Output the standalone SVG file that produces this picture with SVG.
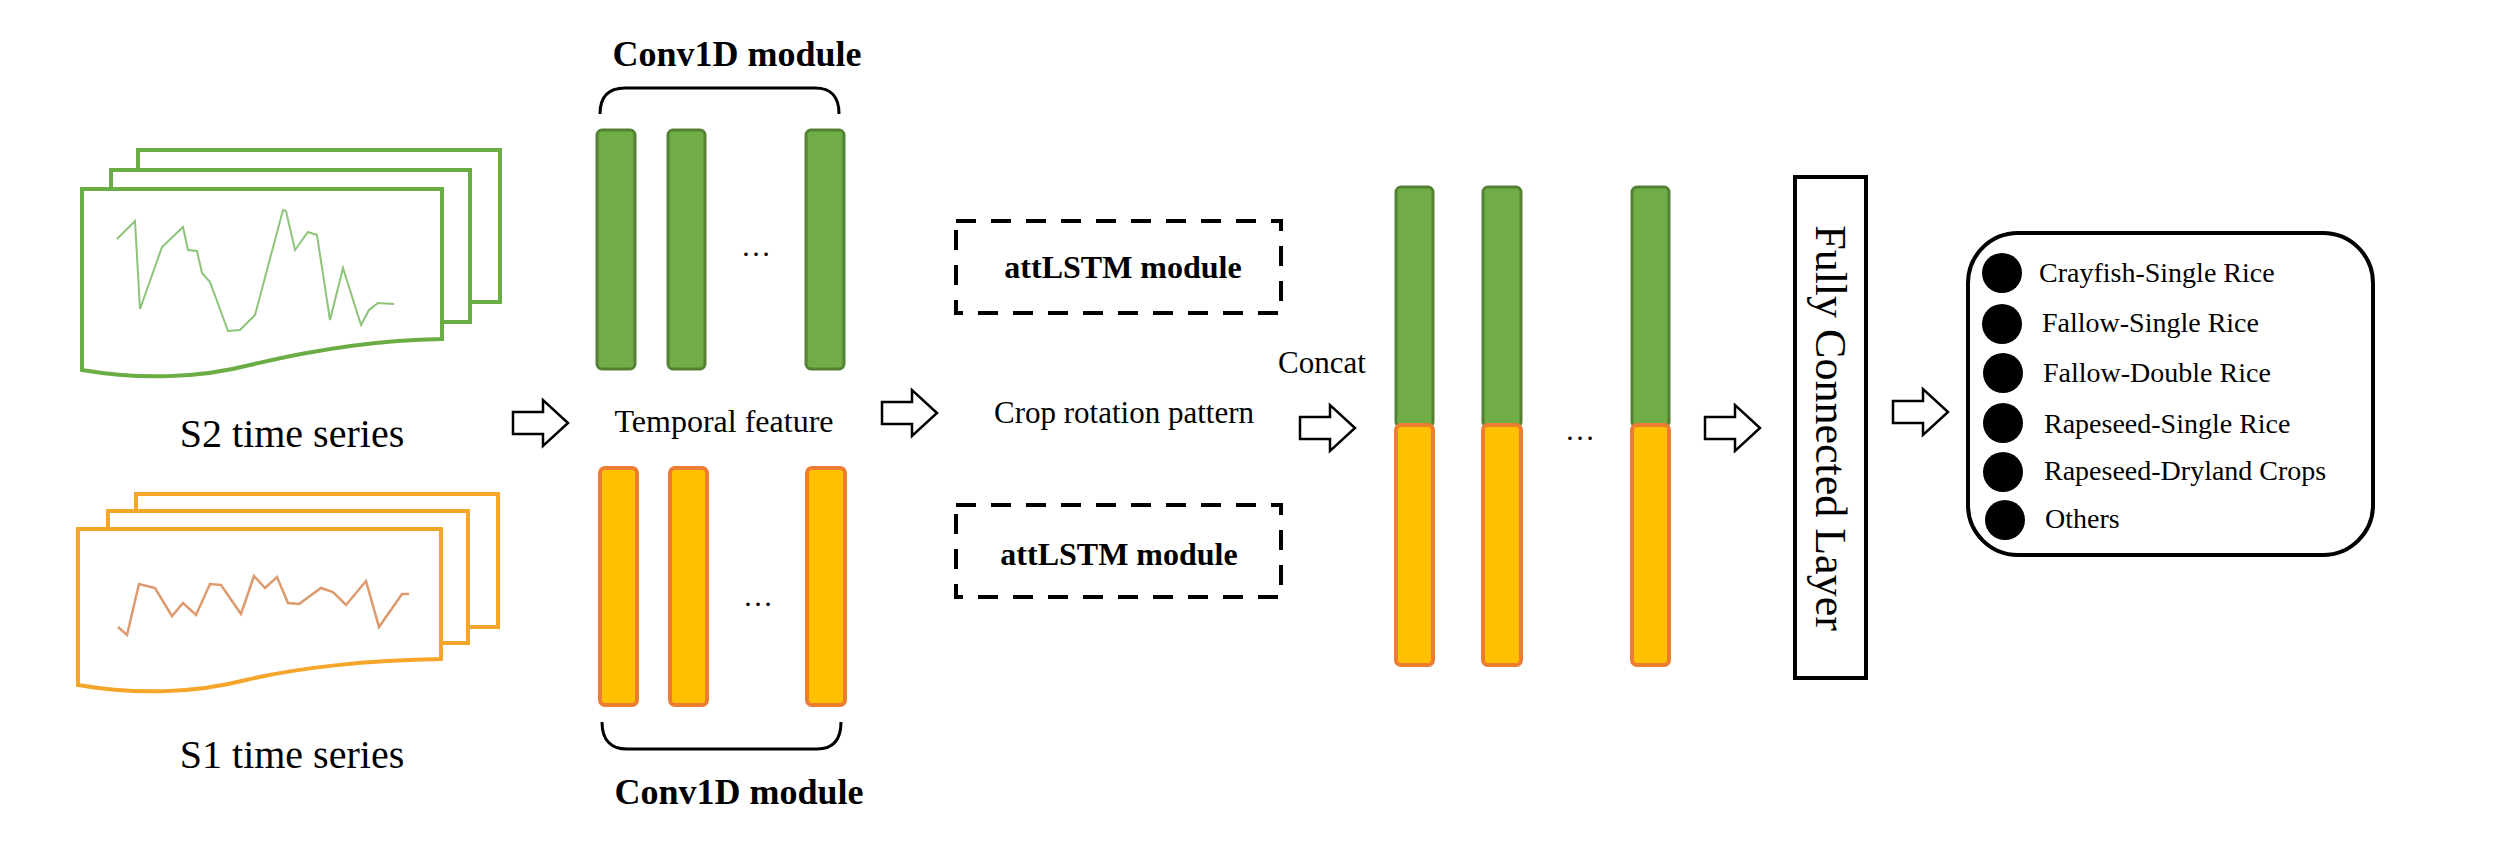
<svg xmlns="http://www.w3.org/2000/svg" width="2504" height="848" viewBox="0 0 2504 848">
<style>
text{font-family:"Liberation Serif","Times New Roman",serif;fill:#000}
.gf{fill:#fff;stroke:#6aad45;stroke-width:4}
.of{fill:#fff;stroke:#f5a52a;stroke-width:4}
.gb{fill:#70ad47;stroke:#548235;stroke-width:3}
.ob{fill:#ffc000;stroke:#ed7d31;stroke-width:4}
.arr{fill:#fff;stroke:#000;stroke-width:2.5;stroke-linejoin:miter}
.dash{fill:none;stroke:#000;stroke-width:4;stroke-dasharray:20 15}
.brace{fill:none;stroke:#000;stroke-width:3}
.b{font-weight:bold}
</style>
<defs>
<path id="arrow" class="arr" d="M0,-11 L30,-11 L30,-23 L55,0 L30,23 L30,11 L0,11 Z"/>
</defs>
<g id="s2">
<rect class="gf" x="138" y="150" width="362" height="152"/>
<rect class="gf" x="111" y="170" width="359" height="152"/>
<path class="gf" d="M82,189 L442,189 L442,339 C370,340 300,353 250,365 C200,378 140,380 82,370 Z"/>
<polyline fill="none" stroke="#8cc47a" stroke-width="2" points="117,239 135,221 140,309 162,247 183,227 188,250 197,251 202,273 210,282 228,331 240,330 255,315 283,210 286,211 295,250 308,232 317,235 330,320 343,268 361,325 369,310 378,303 394,304"/>
<text x="292" y="447" font-size="40" text-anchor="middle">S2 time series</text>
</g>
<g id="s1">
<rect class="of" x="136" y="494" width="362" height="133"/>
<rect class="of" x="108" y="511" width="360" height="132"/>
<path class="of" d="M78,529 L441,529 L441,659 C368,660 296,668 246,680 C196,693 136,695 78,685 Z"/>
<polyline fill="none" stroke="#dd9a6e" stroke-width="2.5" points="118,627 127,635 139,584 155,588 172,616 183,603 196,615 210,584 221,585 241,614 254,576 265,588 277,577 288,603 299,604 321,588 333,592 346,605 366,581 379,627 402,594 409,594"/>
<text x="292" y="768" font-size="40" text-anchor="middle">S1 time series</text>
</g>
<g id="conv-top">
<text class="b" x="737" y="66" font-size="36" text-anchor="middle">Conv1D module</text>
<path class="brace" d="M600,114 C600,95 610,88 625,88 L815,88 C830,88 839,95 839,114"/>
<rect class="gb" x="597" y="130" width="38" height="239" rx="5"/>
<rect class="gb" x="668" y="130" width="37" height="239" rx="5"/>
<rect class="gb" x="806" y="130" width="38" height="239" rx="5"/>
<text x="756" y="256" font-size="30" text-anchor="middle">…</text>
</g>
<g id="temporal">
<text x="724" y="432" font-size="32" text-anchor="middle">Temporal feature</text>
</g>
<g id="conv-bottom">
<rect class="ob" x="600" y="468" width="37" height="237" rx="5"/>
<rect class="ob" x="670" y="468" width="37" height="237" rx="5"/>
<rect class="ob" x="807" y="468" width="38" height="237" rx="5"/>
<text x="758" y="606" font-size="30" text-anchor="middle">…</text>
<path class="brace" d="M602,722 C602,741 612,749 627,749 L817,749 C832,749 841,741 841,722"/>
<text class="b" x="739" y="804" font-size="36" text-anchor="middle">Conv1D module</text>
</g>
<g id="attlstm-top">
<rect class="dash" x="956" y="221" width="325" height="92"/>
<text class="b" x="1123" y="278" font-size="32" text-anchor="middle">attLSTM module</text>
</g>
<g id="crop-rotation">
<text x="1124" y="423" font-size="31" text-anchor="middle">Crop rotation pattern</text>
</g>
<g id="attlstm-bottom">
<rect class="dash" x="956" y="505" width="325" height="92"/>
<text class="b" x="1119" y="565" font-size="32" text-anchor="middle">attLSTM module</text>
</g>
<g id="concat">
<text x="1322" y="373" font-size="31" text-anchor="middle">Concat</text>
<rect class="gb" x="1396" y="187" width="37" height="240" rx="5"/>
<rect class="gb" x="1483" y="187" width="38" height="240" rx="5"/>
<rect class="gb" x="1632" y="187" width="37" height="240" rx="5"/>
<rect class="ob" x="1396" y="425" width="37" height="240" rx="5"/>
<rect class="ob" x="1483" y="425" width="38" height="240" rx="5"/>
<rect class="ob" x="1632" y="425" width="37" height="240" rx="5"/>
<text x="1580" y="440" font-size="30" text-anchor="middle">…</text>
</g>
<g id="fc">
<rect x="1795" y="177" width="71" height="501" fill="#fff" stroke="#000" stroke-width="4"/>
<text x="1830" y="428" font-size="44" text-anchor="middle" dominant-baseline="central" transform="rotate(90 1830 428)">Fully Connected Layer</text>
</g>
<g id="classes">
<rect x="1968" y="233" width="405" height="322" rx="50" fill="#fff" stroke="#000" stroke-width="4"/>
<g fill="#000">
<circle cx="2002" cy="273" r="20"/>
<circle cx="2002" cy="324" r="20"/>
<circle cx="2003" cy="373" r="20"/>
<circle cx="2003" cy="423" r="20"/>
<circle cx="2003" cy="472" r="20"/>
<circle cx="2005" cy="520" r="20"/>
</g>
<g font-size="28">
<text x="2039" y="282">Crayfish-Single Rice</text>
<text x="2042" y="332">Fallow-Single Rice</text>
<text x="2043" y="382">Fallow-Double Rice</text>
<text x="2044" y="433">Rapeseed-Single Rice</text>
<text x="2044" y="480">Rapeseed-Dryland Crops</text>
<text x="2045" y="528">Others</text>
</g>
</g>
<g id="connectors">
<use href="#arrow" x="513" y="423"/>
<use href="#arrow" x="882" y="413"/>
<use href="#arrow" x="1300" y="428"/>
<use href="#arrow" x="1705" y="428"/>
<use href="#arrow" x="1893" y="412"/>
</g>
</svg>
